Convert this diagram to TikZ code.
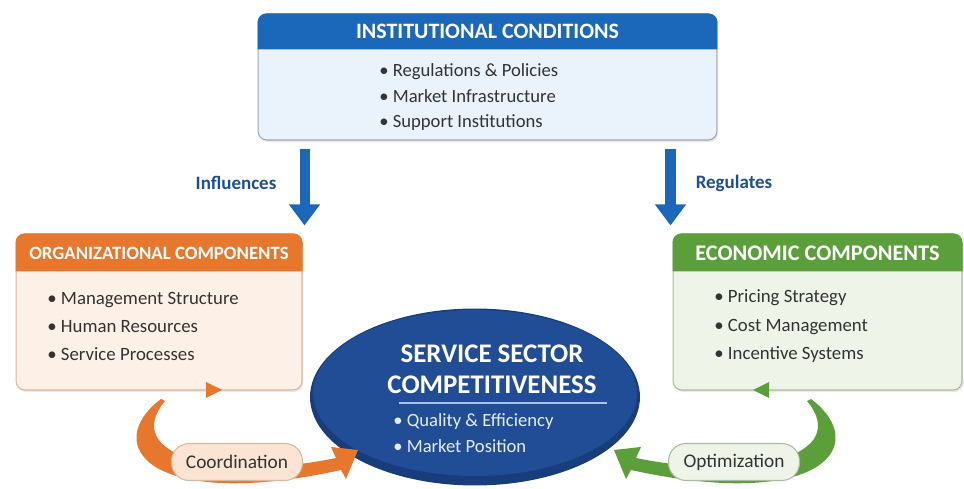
\documentclass[tikz,border=0pt]{standalone}
\usepackage{fontspec}
\setmainfont{Carlito}
\usetikzlibrary{shapes.geometric,arrows.meta,shadows}

\definecolor{instblue}{HTML}{1B67B9}
\definecolor{instbody}{HTML}{EAF3FB}
\definecolor{instline}{HTML}{9AA7B4}
\definecolor{orghead}{HTML}{E8772E}
\definecolor{orgbody}{HTML}{FDF0E6}
\definecolor{orgpill}{HTML}{FBE4D3}
\definecolor{orgline}{HTML}{D9B89C}
\definecolor{ecohead}{HTML}{5B9F3B}
\definecolor{ecobody}{HTML}{EEF5E8}
\definecolor{ecoline}{HTML}{A9BBA0}
\definecolor{coredark}{HTML}{173D7A}
\definecolor{coreface}{HTML}{214D96}
\definecolor{corelight}{HTML}{A9C4E8}
\definecolor{coretext}{HTML}{E3ECF8}
\definecolor{labelblue}{HTML}{1D4F91}
\definecolor{textgray}{HTML}{333333}

\begin{document}
\begin{tikzpicture}[x=0.02cm, y=-0.02cm,
    panel/.style={rounded corners=5pt, line width=0.6pt, inner sep=0pt,
      drop shadow={opacity=0.18, shadow xshift=0.8pt, shadow yshift=-1.2pt}},
    headtext/.style={text=white, font=\fontsize{10.7}{12}\selectfont\bfseries},
    itemlist/.style={align=left, anchor=west, inner sep=0pt, text=textgray},
    flow/.style={instblue, line width=5.7pt, -{Triangle[length=12pt, width=17pt]},
      shorten <=0.16cm, shorten >=0.16cm},
    flowlabel/.style={text=labelblue, font=\fontsize{10.8}{12}\selectfont\bfseries},
    pill/.style={rounded corners=10pt, minimum width=2.62cm, minimum height=0.74cm,
      line width=0.6pt, text=textgray, font=\fontsize{11}{13}\selectfont},
    ]
    \useasboundingbox (0,0) rectangle (964,489);

    % top panel
    \node[panel, fill=instbody, draw=instline, minimum width=9.18cm, minimum height=2.52cm] (inst) at (487.5,77) {};
    \fill[instblue] ([yshift=-0.72cm]inst.north west) [rounded corners=5pt] -- (inst.north west) -- (inst.north east) [sharp corners] -- ([yshift=-0.72cm]inst.north east) -- cycle;
    \node[headtext, font=\fontsize{12.5}{14}\selectfont\bfseries] (insttitle) at ([yshift=-0.36cm]inst.north) {INSTITUTIONAL CONDITIONS};
    \node[itemlist, font=\fontsize{10.6}{14.5}\selectfont] (institems) at (379,97.5)
        {\textbullet\ Regulations \& Policies\\ \textbullet\ Market Infrastructure\\ \textbullet\ Support Institutions};

    % side panels
    \node[panel, fill=orgbody, draw=orgline, minimum width=5.72cm, minimum height=3.12cm] (org) at (159,312) {};
    \fill[orghead] ([yshift=-0.76cm]org.north west) [rounded corners=5pt] -- (org.north west) -- (org.north east) [sharp corners] -- ([yshift=-0.76cm]org.north east) -- cycle;
    \node[headtext] (orgtitle) at ([yshift=-0.39cm]org.north) {ORGANIZATIONAL COMPONENTS};
    \node[itemlist, font=\fontsize{10.7}{16.2}\selectfont] (orgitems) at (47,326.5)
        {\textbullet\ Management Structure\\ \textbullet\ Human Resources\\ \textbullet\ Service Processes};
    \fill[orghead] (206,382) -- (222,390) -- (206,398) -- cycle;

    \node[panel, fill=ecobody, draw=ecoline, minimum width=5.78cm, minimum height=3.12cm] (eco) at (817.5,312) {};
    \fill[ecohead] ([yshift=-0.76cm]eco.north west) [rounded corners=5pt] -- (eco.north west) -- (eco.north east) [sharp corners] -- ([yshift=-0.76cm]eco.north east) -- cycle;
    \node[headtext, font=\fontsize{12.7}{14}\selectfont\bfseries] (ecotitle) at ([yshift=-0.39cm]eco.north) {ECONOMIC COMPONENTS};
    \node[itemlist, font=\fontsize{10.7}{16.2}\selectfont] (ecoitems) at (714,326.5)
        {\textbullet\ Pricing Strategy\\ \textbullet\ Cost Management\\ \textbullet\ Incentive Systems};
    \fill[ecohead] (769,382) -- (753,390) -- (769,398) -- cycle;

    % flows from the top
    \coordinate (infl) at ([xshift=0.94cm]inst.south west);
    \coordinate (regl) at ([xshift=-0.94cm]inst.south east);
    \draw[flow] (infl) -- (infl |- org.north);
    \draw[flow] (regl) -- (regl |- eco.north);
    \node[flowlabel] (influences) at (236,183) {Influences};
    \node[flowlabel] (regulates) at (734,183) {Regulates};

    % centre disc
    \node[ellipse, fill=coredark, minimum width=6.6cm, minimum height=3.54cm, inner sep=0pt] (core) at (475,397) {};
    \fill[coreface] ([yshift=0.08cm]core.center) ellipse [x radius=3.24cm, y radius=1.66cm];
    \node[align=center, text=white, font=\fontsize{15.3}{17.5}\selectfont\bfseries] (coretitle) at (492,369)
        {SERVICE SECTOR\\ COMPETITIVENESS};
    \draw[corelight, line width=0.8pt] (399,403) -- (607,403);
    \node[itemlist, text=coretext, font=\fontsize{10.6}{14.7}\selectfont] (coreitems) at (393,433)
        {\textbullet\ Quality \& Efficiency\\ \textbullet\ Market Position};

    % curved feedback arrows
    \fill[orghead] (161,399) .. controls (100,445) and (150,512) .. (341,470) -- (346,479) -- (358,450) -- (331,447) -- (336,458) .. controls (220,482) and (120,455) .. (165,401) -- cycle;
    \begin{scope}[shift={(972,0)}, xscale=-1]
      \fill[ecohead] (161,399) .. controls (100,445) and (150,512) .. (341,470) -- (346,479) -- (358,450) -- (331,447) -- (336,458) .. controls (220,482) and (120,455) .. (165,401) -- cycle;
    \end{scope}
    \node[pill, fill=orgpill, draw=orgline] (coord) at (237,462) {Coordination};
    \node[pill, fill=ecobody, draw=ecoline] (optim) at (734,462) {Optimization};
\end{tikzpicture}
\end{document}
